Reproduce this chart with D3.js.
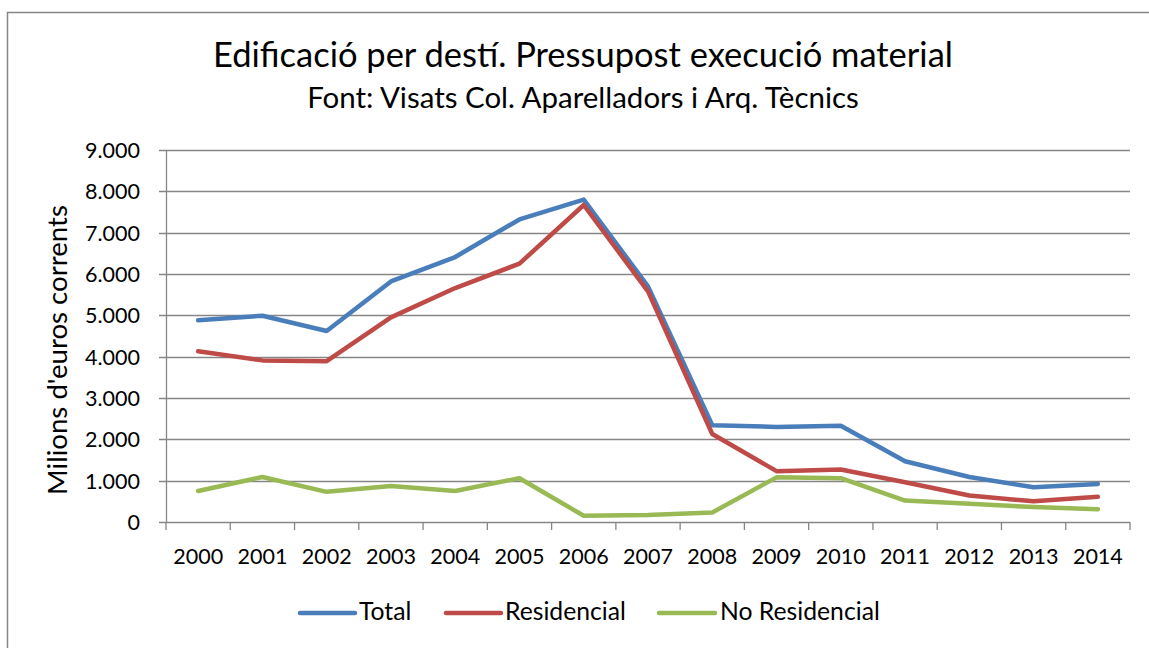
<!DOCTYPE html>
<html>
<head>
<meta charset="utf-8">
<script src="https://cdn.jsdelivr.net/npm/d3@7"></script>
<style>
  body { margin: 0; background: #fff; }
  svg { display: block; }
  text { font-family: Lato, "Open Sans", sans-serif; fill: #000; }
</style>
</head>
<body>
<svg id="chart" width="1149" height="648"></svg>
<script>
const years = ["2000","2001","2002","2003","2004","2005","2006","2007","2008","2009","2010","2011","2012","2013","2014"];
const total = [4880, 4990, 4620, 5820, 6410, 7320, 7800, 5700, 2340, 2300, 2330, 1470, 1090, 840, 920];
const residencial = [4130, 3910, 3890, 4950, 5660, 6250, 7670, 5580, 2130, 1230, 1270, 960, 640, 500, 610];
const noResidencial = [750, 1090, 730, 870, 750, 1060, 150, 170, 230, 1080, 1060, 520, 440, 360, 310];
const yTicks = [0, 1000, 2000, 3000, 4000, 5000, 6000, 7000, 8000, 9000];
const seriesNames = ["Total", "Residencial", "No Residencial"];
const seriesColors = ["#4a7ebb", "#be4b48", "#98b954"];
const titleText = "Edificació per destí. Pressupost execució material";
const subtitleText = "Font: Visats Col. Aparelladors i Arq. Tècnics";
const yTitleText = "Milions d'euros corrents";

const svg = d3.select("#chart");
const gridColor = "#868686";

// size text so its width matches a target
function fitSize(text, target, base) {
  const t = svg.append("text").attr("font-size", base).text(text);
  const w = t.node().getComputedTextLength();
  t.remove();
  return base * target / w;
}

// frame
svg.append("rect").attr("x", 7.5).attr("y", 12.5).attr("width", 1160).attr("height", 660)
  .attr("fill", "none").attr("stroke", gridColor).attr("stroke-width", 1.5);

const x = d3.scaleBand().domain(years).range([166, 1130]);
const y = d3.scaleLinear().domain([0, 9000]).range([522, 150]);
const cx = d => x(d) + x.bandwidth() / 2;

// gridlines
svg.append("g").selectAll("line").data(yTicks).join("line")
  .attr("x1", 159).attr("x2", 1130)
  .attr("y1", d => Math.round(y(d)) + 0.5).attr("y2", d => Math.round(y(d)) + 0.5)
  .attr("stroke", gridColor).attr("stroke-width", 1.3);

// y axis line
svg.append("line").attr("x1", 166.5).attr("x2", 166.5).attr("y1", y(9000)).attr("y2", y(0))
  .attr("stroke", gridColor).attr("stroke-width", 1.3);

// x-axis boundary ticks
const bounds = years.map(d => x(d)).concat([x.range()[1]]);
svg.append("g").selectAll("line").data(bounds).join("line")
  .attr("x1", d => d).attr("x2", d => d)
  .attr("y1", y(0)).attr("y2", y(0) + 8)
  .attr("stroke", gridColor).attr("stroke-width", 1.3);

// tick labels
const fmt = d => d3.format(",")(d).replace(/,/g, ".");
const tickSize = fitSize("2000", 50, 20);
const yAxis = d3.axisLeft(y).tickValues(yTicks).tickFormat(fmt).tickSize(0).tickPadding(0);
const gy = svg.append("g").attr("transform", "translate(140,0)").call(yAxis);
gy.select(".domain").remove();
gy.selectAll("text").attr("font-size", tickSize).attr("font-family", "Lato, 'Open Sans', sans-serif").attr("fill", "#000").attr("dy", "0.35em");

const xAxis = d3.axisBottom(x).tickSize(0).tickPadding(0);
const gx = svg.append("g").attr("transform", "translate(0,548)").call(xAxis);
gx.select(".domain").remove();
gx.selectAll("text").attr("font-size", tickSize).attr("font-family", "Lato, 'Open Sans', sans-serif").attr("fill", "#000").attr("dy", "0.75em");

// lines
const allSeries = [total, residencial, noResidencial];
const line = d3.line().x((d, i) => cx(years[i])).y(d => y(d));
svg.append("g").selectAll("path").data(allSeries).join("path")
  .attr("d", d => line(d))
  .attr("fill", "none")
  .attr("stroke", (d, i) => seriesColors[i])
  .attr("stroke-width", 4.5)
  .attr("stroke-linejoin", "round")
  .attr("stroke-linecap", "round");

// titles
svg.append("text").attr("x", 583).attr("y", 67).attr("text-anchor", "middle")
  .attr("font-size", fitSize(titleText, 740, 30)).text(titleText);
svg.append("text").attr("x", 583).attr("y", 108).attr("text-anchor", "middle")
  .attr("font-size", fitSize(subtitleText, 552, 22)).text(subtitleText);

// y title
svg.append("text").attr("transform", "translate(67,350) rotate(-90)").attr("text-anchor", "middle")
  .attr("font-size", fitSize(yTitleText, 290, 20)).text(yTitleText);

// legend
const legendLines = [[300, 355], [446, 501], [659, 715]];
const legendTextX = [359, 505, 720];
const legendSize = fitSize("Residencial", 121, 20);
const lg = svg.append("g");
seriesNames.forEach((name, i) => {
  lg.append("line").attr("x1", legendLines[i][0]).attr("x2", legendLines[i][1])
    .attr("y1", 613).attr("y2", 613)
    .attr("stroke", seriesColors[i]).attr("stroke-width", 4.5).attr("stroke-linecap", "round");
  lg.append("text").attr("x", legendTextX[i]).attr("y", 620).attr("font-size", legendSize).text(name);
});
</script>
</body>
</html>
